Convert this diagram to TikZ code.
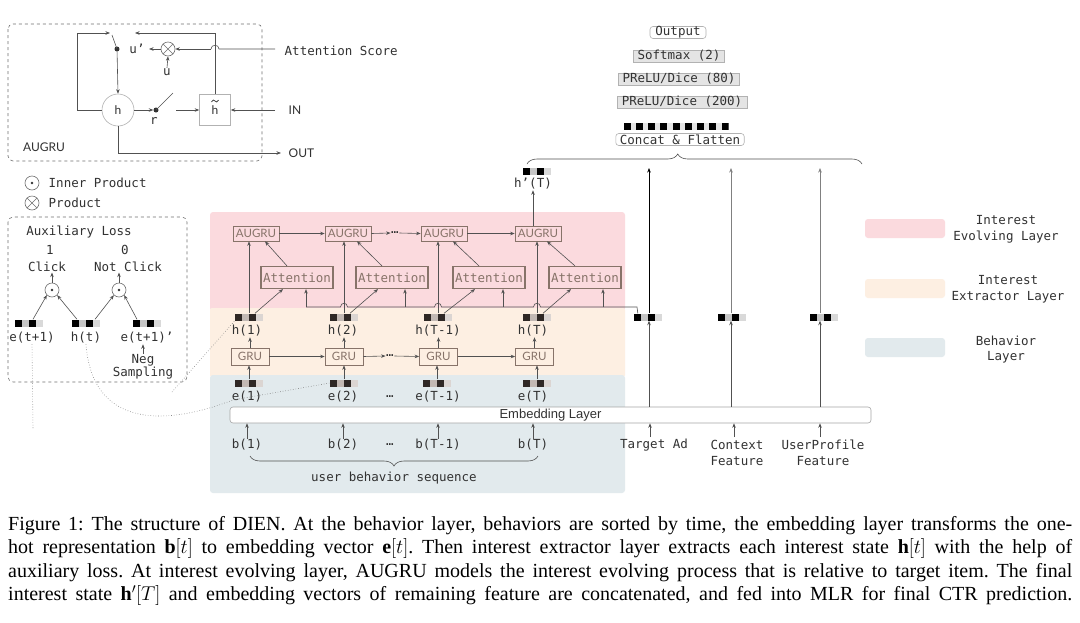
\RequirePackage{fix-cm}
\documentclass[tikz,border=0pt]{standalone}
\usepackage{fontspec}
\setmainfont{Liberation Serif}
\newfontfamily\monof{DejaVu Sans Mono}
\newfontfamily\gillf{Lato}
\newfontfamily\arialf{Liberation Sans}
\usetikzlibrary{arrows.meta,decorations.pathreplacing,calc}
\pgfdeclarelayer{background}
\pgfsetlayers{background,main}
\definecolor{pinkbg}{RGB}{251,218,222}
\definecolor{orangebg}{RGB}{253,239,226}
\definecolor{bluebg}{RGB}{226,234,237}
\definecolor{boxc}{RGB}{135,115,105}
\definecolor{txt}{RGB}{50,50,50}
\definecolor{lgray}{RGB}{228,228,228}
\newcommand\mfont{\monof\fontsize{12.5}{15.5}\selectfont}
\newcommand\gfont{\gillf\fontsize{11.5}{13}\selectfont}
\newcommand\capfont{\fontsize{20}{23.5}\selectfont\frenchspacing}
\newcommand\vcells[3]{%
 \fill[#1] (path picture bounding box.south west) rectangle ++(7pt,7pt);
 \fill[#2] ($(path picture bounding box.south west)+(7pt,0pt)$) rectangle ++(7pt,7pt);
 \fill[#1] ($(path picture bounding box.south west)+(14pt,0pt)$) rectangle ++(7pt,7pt);
 \fill[#3] ($(path picture bounding box.south west)+(21pt,0pt)$) rectangle ++(7pt,7pt);}
\tikzset{
 arr/.style={draw=txt!85, -{Stealth[length=4.5pt,width=3.5pt]}, line width=0.6pt},
 ln/.style={draw=txt!85, line width=0.6pt},
 dotl/.style={draw=gray, dotted, line width=0.6pt},
 lbl/.style={font=\mfont, text=txt, inner sep=0.5pt},
 glbl/.style={font=\gillf\fontsize{12}{14}\selectfont, text=txt, inner sep=0.5pt},
 sbox/.style={draw=boxc, text=boxc, font=\gfont, inner sep=1pt, minimum width=46pt, minimum height=15pt, line width=0.7pt},
 grubox/.style={sbox, minimum width=38pt, minimum height=17pt},
 attbox/.style={draw=boxc, text=boxc, font=\mfont, inner sep=1pt, minimum width=72pt, minimum height=22pt, line width=1.2pt},
 vec/.style={minimum width=28pt, minimum height=7pt, inner sep=0pt, path picture={\vcells{black}{gray!45}{gray!30}}},
 vecb/.style={minimum width=28pt, minimum height=7pt, inner sep=0pt, path picture={\vcells{black!65!boxc}{boxc!50}{boxc!30}}},
 cvecs/.style={minimum width=105pt, minimum height=7pt, inner sep=0pt, path picture={
   \fill[lgray] (path picture bounding box.south west) rectangle (path picture bounding box.north east);
   \foreach \i in {0,...,8}{\fill[black] ($(path picture bounding box.south west)+(\i*12.25pt,0pt)$) rectangle ++(7pt,7pt);}}},
 odot/.style={circle, draw=txt!70, minimum size=14pt, inner sep=0pt, line width=0.6pt, path picture={\fill[txt] (path picture bounding box.center) circle (1.4pt);}},
 otimes/.style={circle, draw=txt!70, minimum size=14pt, inner sep=0pt, line width=0.6pt, path picture={\draw[txt!70, line width=0.6pt] (path picture bounding box.north west) -- (path picture bounding box.south east) (path picture bounding box.north east) -- (path picture bounding box.south west);}},
 dotn/.style={circle, fill=txt, inner sep=0pt, minimum size=5pt},
 mlpbox/.style={draw=gray!60, fill=lgray, font=\mfont, text=txt, inner xsep=4pt, inner ysep=0pt, minimum height=12pt, line width=0.6pt},
 rbox/.style={mlpbox, fill=white, rounded corners=3pt},
 legbox/.style={rounded corners=3pt, minimum width=80pt, minimum height=19pt, inner sep=0pt},
 leglbl/.style={font=\monof\fontsize{12.5}{15.5}\selectfont, text=txt, align=center, inner sep=0pt}
}
\begin{document}
\begin{tikzpicture}[x=1pt,y=-1pt]
\useasboundingbox[fill=white] (0,0) rectangle (1080,622);

% ---- layer backgrounds
\fill[pinkbg, rounded corners=3pt] (210,212) rectangle (625,311);
\fill[orangebg, rounded corners=2pt] (210,308) rectangle (625,377);
\fill[bluebg, rounded corners=3pt] (210,375) rectangle (625,493);

% ---- AUGRU cell
\draw[dashed, draw=txt!70, rounded corners=5pt, line width=0.6pt] (8,24) rectangle (262,161);
\node[circle, draw=gray!60, minimum size=32pt, inner sep=0pt, glbl, line width=0.6pt] (hc) at (118,110) {h};
\node[draw=gray!60, minimum size=31pt, inner sep=0pt, glbl, line width=0.6pt] (ht) at (215,110) {\raisebox{-1.5pt}{h}};
\draw[txt, line width=0.7pt] (211.5,102) .. controls (212.5,99.5) and (214,99.5) .. (215,101) .. controls (216,102.5) and (217.5,102.5) .. (218.5,100);
\node[otimes] (ot) at (168,49) {};
\node[dotn] (du) at (117,49) {};
\node[dotn] (dr) at (156,110) {};
\node[lbl] (upl) at (137,49) {u’};
\node[lbl] (ul) at (167,72) {u};
\node[lbl] (rl) at (154,121) {r};
\node[lbl, anchor=west] (asl) at (284,51) {Attention Score};
\node[glbl, anchor=west] (inl) at (288,110) {IN};
\node[glbl, anchor=west] (outl) at (288,153) {OUT};
\node[glbl] (augl) at (44,147) {AUGRU};
\coordinate (asS) at (275,49);
\coordinate (inS) at (275,110);
\coordinate (outE) at (281,153);
\coordinate (loopE) at (110,33);
\coordinate (topE) at (135,33);
\coordinate (swA) at (112,35);
\coordinate (swB) at (173,93);
\coordinate (swC) at (176,110);
\coordinate (upE) at (149,49);
\draw[arr] (hc.west) -- (77,110) -- (77,33) -- (loopE);
\draw[ln] (swA) -- (du.center);
\draw[arr] (du) -- (hc.north);
\draw[arr] (ht.north) -- (ht.north |- topE) -- (topE);
\draw[ln] (asS) -- (219,49) .. controls (219,44) and (211,44) .. (211,49);
\draw[arr] (211,49) -- (ot.east);
\draw[arr] (ot.west) -- (upE);
\draw[arr] (ul.north) -- (ot.south);
\draw[arr] (hc.east) -- (dr.west);
\draw[ln] (dr.center) -- (swB);
\draw[arr] (swC) -- (ht.west);
\draw[arr] (inS) -- (ht.east);
\draw[arr] (hc.south) -- (hc.south |- outE) -- (outE);

% ---- left legend
\node[odot] (lg1) at (32,183) {};
\node[lbl, anchor=west] (lg1t) at (48,183) {Inner Product};
\node[otimes] (lg2) at (32,203) {};
\node[lbl, anchor=west] (lg2t) at (48,203) {Product};

% ---- auxiliary loss
\draw[dashed, draw=txt!70, rounded corners=5pt, line width=0.6pt] (8,217) rectangle (187,382);
\node[lbl] (aul) at (79,232) {Auxiliary Loss};
\node[lbl] (one) at (50,250) {1};
\node[lbl] (click) at (47,267) {Click};
\node[lbl] (zero) at (125,250) {0};
\node[lbl] (nclick) at (128,267) {Not Click};
\node[odot] (od1) at (52,290) {};
\node[odot] (od2) at (119,290) {};
\node[vec] (ve1) at (29,323) {};
\node[vec] (vh) at (86,323) {};
\node[vec] (ve2) at (147,323) {};
\node[lbl] (le1) at (32,338) {e(t+1)};
\node[lbl] (lh) at (86,338) {h(t)};
\node[lbl] (le2) at (147,338) {e(t+1)’};
\node[lbl, align=center, font=\monof\fontsize{12.5}{13}\selectfont] (neg) at (143,367) {Neg\\Sampling};
\draw[arr] (od1.north) -- (od1.north |- click.south);
\draw[arr] (od2.north) -- (od2.north |- nclick.south);
\draw[arr] ([xshift=4pt]ve1.north) -- (od1.south west);
\draw[arr] ([xshift=-9pt]vh.north) -- (od1.south east);
\draw[arr] ([xshift=9pt]vh.north) -- (od2.south west);
\draw[arr] ([xshift=-10pt]ve2.north) -- (od2.south east);
\draw[arr] (neg.north) -- (neg.north |- le2.south);

% ---- main network
\foreach \n/\x in {1/256,2/348,3/444,4/538}{\node[sbox] (a\n) at (\x,233.5) {AUGRU};}
\foreach \n/\x in {1/297,2/392,3/489,4/585}{\node[attbox] (at\n) at (\x,277.5) {Attention};}
\foreach \n/\x in {1/250,2/344,3/438.5,4/534.5}{\node[grubox] (g\n) at (\x,356.5) {GRU};}
\foreach \n/\x in {1/249,2/344,3/438,4/537}{\node[vecb] (hv\n) at (\x,317) {};}
\foreach \n/\x in {1/249,2/344,3/437,4/537}{\node[vecb] (ev\n) at (\x,383) {};}
\node[lbl] (hl1) at (247,331) {h(1)};
\node[lbl] (hl2) at (343,331) {h(2)};
\node[lbl] (hl3) at (438,331) {h(T-1)};
\node[lbl] (hl4) at (533,331) {h(T)};
\node[lbl] (el1) at (247,397) {e(1)};
\node[lbl] (el2) at (343,397) {e(2)};
\node[lbl] (eld) at (390,397) {…};
\node[lbl] (el3) at (438,397) {e(T-1)};
\node[lbl] (el4) at (533,397) {e(T)};
\node[lbl] (bl1) at (247,445) {b(1)};
\node[lbl] (bl2) at (343,445) {b(2)};
\node[lbl] (bld) at (390,445) {…};
\node[lbl] (bl3) at (438,445) {b(T-1)};
\node[lbl] (bl4) at (533,445) {b(T)};
\node[draw=gray!70, fill=white, rounded corners=3pt, minimum width=641pt, minimum height=16pt, inner sep=0pt, font=\arialf\fontsize{13}{15}\selectfont, text=txt, line width=0.6pt] (emb) at (550.5,415) {Embedding Layer};
\node[lbl] (gd) at (390,356) {…};
\node[lbl] (ad) at (395,233) {…};

% vertical arrows
\foreach \n in {1,2,3,4}{
  \draw[arr] (ev\n.north) -- (ev\n.north |- g\n.south);
  \draw[arr] (g\n.north) -- (g\n.north |- hl\n.south);
  \draw[arr] (hv\n.north) -- (hv\n.north |- a\n.south);
  \draw[arr] ([xshift=6pt]hv\n.north) -- ([xshift=-14pt]at\n.south);
  \draw[arr] ([xshift=-10pt]at\n.north) -- ([xshift=9pt]a\n.south);
  \draw[arr] (bl\n.north) -- (bl\n.north |- emb.south);
}
% horizontal arrows
\draw[arr] (g1) -- (g2);
\draw[arr] (g2.east) -- (gd.west);
\draw[arr] (gd.east) -- (g3.west);
\draw[arr] (g3) -- (g4);
\draw[arr] (a1) -- (a2);
\draw[arr] (a2.east) -- (ad.west);
\draw[arr] (ad.east) -- (a3.west);
\draw[arr] (a3) -- (a4);

% target-ad line to attention units
\node[vec] (tv) at (648,317) {};
\node[vec] (cv) at (732,317) {};
\node[vec] (pv) at (824,317) {};
\coordinate (tl0) at (306,307);
\coordinate (tl1) at (405,307);
\coordinate (tl2) at (503,307);
\coordinate (tl3) at (603,307);
\draw[ln] (tl0) -- (340.5,307) .. controls (340.5,302) and (347.5,302) .. (347.5,307)
  -- (434.5,307) .. controls (434.5,302) and (441.5,302) .. (441.5,307)
  -- (533.5,307) .. controls (533.5,302) and (540.5,302) .. (540.5,307)
  -- (637,307) -- ([xshift=4pt]tv.north west);
\draw[arr] (tl0) -- (tl0 |- at1.south);
\draw[arr] (tl1) -- (tl1 |- at2.south);
\draw[arr] (tl2) -- (tl2 |- at3.south);
\draw[arr] (tl3) -- (tl3 |- at4.south);

% brace under behaviours
\draw[ln, decorate, decoration={brace, amplitude=10pt}] (538,456) -- (250,456);
\node[lbl] (ubs) at (394,478) {user behavior sequence};

% right features
\node[lbl] (tal) at (654,445) {Target Ad};
\node[lbl, align=center, font=\monof\fontsize{12.5}{16}\selectfont] (cfl) at (737,452.5) {Context\\Feature};
\node[lbl, align=center, font=\monof\fontsize{12.5}{16}\selectfont] (upl2) at (823,453) {UserProfile\\Feature};
\coordinate (ta) at (650,437);
\coordinate (ca) at (734,437);
\coordinate (pa) at (820,437);
\draw[arr] (ta) -- (ta |- emb.south);
\draw[arr] (ca) -- (ca |- emb.south);
\draw[arr] (pa) -- (pa |- emb.south);
\coordinate (tx) at (649,168);
\coordinate (cx) at (731,168);
\coordinate (px) at (820,168);
\draw[arr] (tx |- emb.north) -- (tx |- tv.south);
\draw[arr] (cx |- emb.north) -- (cx |- cv.south);
\draw[arr] (px |- emb.north) -- (px |- pv.south);
\draw[arr, draw=black] (tx |- tv.north) -- (tx);
\draw[arr, draw=gray] (cx |- cv.north) -- (cx);
\draw[arr, draw=gray] (px |- pv.north) -- (px);

% h'(T)
\node[vec] (hpv) at (537,171) {};
\node[lbl] (hpl) at (533,184) {h’(T)};
\draw[arr] (a4.north -| hpl.south) -- (hpl.south);

% big brace and MLP
\draw[ln, decorate, decoration={brace, amplitude=10pt, aspect=0.45}] (527,164) -- (862,164);
\node[cvecs] (cvec) at (676,126) {};
\node[rbox] (concat) at (680,139.5) {Concat \& Flatten};
\node[mlpbox, minimum width=130pt] (m200) at (682,102) {PReLU/Dice (200)};
\node[mlpbox, minimum width=119pt] (m80) at (679,79) {PReLU/Dice (80)};
\node[mlpbox, minimum width=91pt] (soft) at (679,56) {Softmax (2)};
\node[rbox, minimum width=56pt] (outp) at (678,32.5) {Output};
\begin{pgfonlayer}{background}
\draw[gray!60, line width=0.6pt] (outp.center) -- (outp.center |- cvec.north);
\end{pgfonlayer}

% ---- dotted links
\draw[dotl] (le1.south) -- (33,428);
\draw[dotl] (lh.south) .. controls (92,425) and (160,428) .. (233,400) -- (ev2.west);
\draw[dotl] (172,392) -- (hv1.south west);

% ---- right legend
\node[legbox, fill=pinkbg] (lgp) at (905,228.5) {};
\node[legbox, fill=orangebg] (lgo) at (905,288.5) {};
\node[legbox, fill=bluebg] (lgb) at (905,347.5) {};
\node[leglbl] (lgpt) at (1006,229.5) {Interest\\Evolving Layer};
\node[leglbl] (lgot) at (1008,289) {Interest\\Extractor Layer};
\node[leglbl] (lgbt) at (1006,349.5) {Behavior\\Layer};

% ---- caption
\node[anchor=north west, text width=1064pt, align=justify, inner sep=0pt, font=\capfont, text=black] (cap) at (8,516) {Figure 1: The structure of DIEN. At the behavior layer, behaviors are sorted by time, the embedding layer transforms the one-\linebreak hot representation $\mathbf{b}[t]$ to embedding vector $\mathbf{e}[t]$. Then interest extractor layer extracts each interest state $\mathbf{h}[t]$ with the help of\linebreak auxiliary loss. At interest evolving layer, AUGRU models the interest evolving process that is relative to target item. The final\linebreak interest state $\mathbf{h}'[T]$ and embedding vectors of remaining feature are concatenated, and fed into MLR for final CTR prediction.\parfillskip=0pt\par};
\end{tikzpicture}
\end{document}
